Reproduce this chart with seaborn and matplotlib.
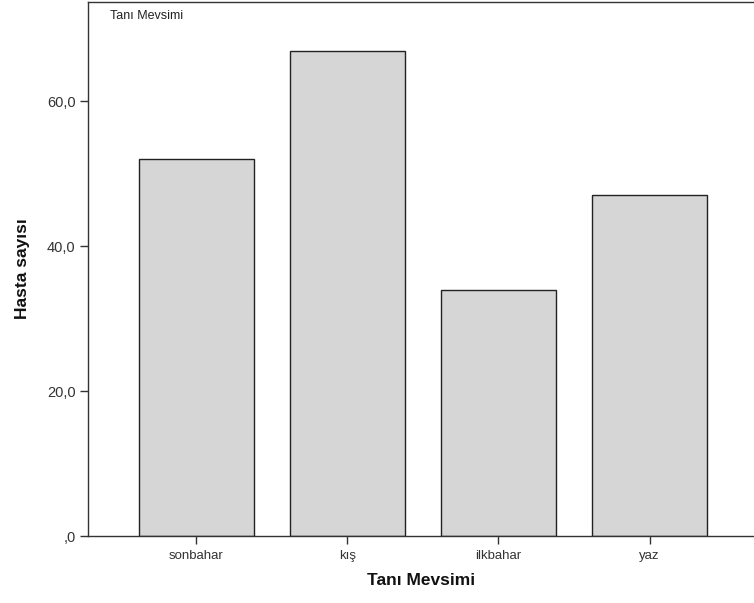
import matplotlib
matplotlib.use("Agg")
import matplotlib.pyplot as plt
import seaborn as sns
import pandas as pd
from matplotlib.ticker import FuncFormatter

categories = ["sonbahar", "kış", "ilkbahar", "yaz"]
values = [52, 67, 34, 47]
yticks = [0, 20, 40, 60]

sns.set_theme(style="white")
plt.rcParams['font.family'] = ['Liberation Sans', 'DejaVu Sans']

df = pd.DataFrame({"season": categories, "count": values})

fig = plt.figure(figsize=(7.54, 6.03), dpi=100)
ax = fig.add_axes([88/754, 67/603, 666/754, 534/603])

sns.barplot(data=df, x="season", y="count", ax=ax, color="#d6d6d6",
            edgecolor="#222222", linewidth=1.0, width=0.76, saturation=1)

ax.set_xlim(-0.715, 3.69)
ax.set_ylim(0, 73.7)
ax.set_yticks(yticks)


def fmt(v, p):
    s = ("%.1f" % v).replace(".", ",")
    if v == 0:
        s = ",0"
    return s


ax.yaxis.set_major_formatter(FuncFormatter(fmt))

for s in ["left", "bottom", "top"]:
    ax.spines[s].set_visible(True)
    ax.spines[s].set_color("#333333")
    ax.spines[s].set_linewidth(1.0)
ax.spines["right"].set_visible(False)

ax.tick_params(axis="both", which="both", direction="out", length=6, width=1,
               color="#333333", labelcolor="#333333", pad=3,
               left=True, bottom=True)
ax.tick_params(axis="y", labelsize=10.5)
ax.tick_params(axis="x", labelsize=9.5, pad=4)

ax.set_xlabel("Tanı Mevsimi", fontsize=12.5, fontweight="bold", labelpad=8, color="#111111")
ax.set_ylabel("Hasta sayısı", fontsize=12.5, fontweight="bold", labelpad=12, color="#111111")

ax.text(0.033, 0.985, "Tanı Mevsimi", transform=ax.transAxes, fontsize=9,
        va="top", ha="left", color="#222222")

fig.savefig("out.png", dpi=100)
